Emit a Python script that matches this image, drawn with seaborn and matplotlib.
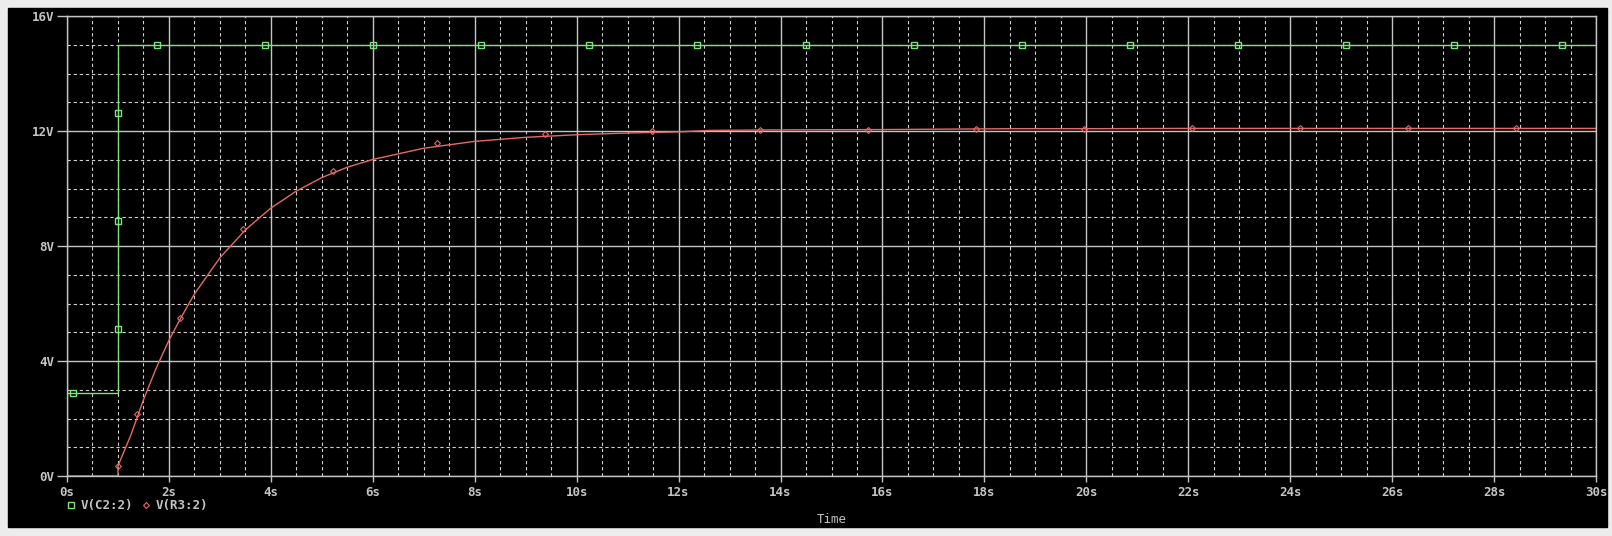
import matplotlib
matplotlib.use("Agg")
import matplotlib.pyplot as plt
from matplotlib.lines import Line2D
from matplotlib.patches import Rectangle
import matplotlib.ticker as mticker
import seaborn as sns

# V(C2:2) trace
c2_time = [0.0, 1.0, 1.0, 30.0]
c2_volt = [2.9, 2.9, 15.0, 15.0]
c2_mark_time = [0.12, 1.0, 1.0, 1.0, 1.77, 3.89, 6.01, 8.13, 10.25, 12.37, 14.49,
                16.61, 18.73, 20.85, 22.97, 25.09, 27.21, 29.33]
c2_mark_volt = [2.88, 5.1, 8.87, 12.62] + [15.0] * 14

# V(R3:2) trace
r3_time = [0.0, 1.0, 1.0, 1.25, 1.5, 1.75, 2.0, 2.25, 2.5, 3.0, 3.5, 4.0, 4.5,
           5.0, 5.5, 6.0, 7.0, 8.0, 9.0, 10.0, 11.0, 12.0, 12.6, 14.0, 16.0,
           18.5, 20.0, 22.0, 26.0, 30.0]
r3_volt = [0.0, 0.0, 0.35, 1.41, 2.65, 3.75, 4.72, 5.55, 6.33, 7.59, 8.56, 9.32,
           9.91, 10.38, 10.74, 11.01, 11.4, 11.64, 11.78, 11.87, 11.93, 11.97,
           12.02, 12.04, 12.05, 12.08, 12.08, 12.09, 12.09, 12.09]
r3_mark_time = [1.0, 1.37, 2.22, 3.45, 5.22, 7.26, 9.38, 11.48, 13.6, 15.72,
                17.83, 19.95, 22.07, 24.19, 26.31, 28.43]
r3_mark_volt = [0.35, 2.16, 5.5, 8.6, 10.6, 11.58, 11.9, 12.0, 12.04, 12.05,
                12.07, 12.08, 12.09, 12.09, 12.09, 12.09]

x_ticks = list(range(0, 31, 2))
x_labels = [f"{t}s" for t in x_ticks]
y_ticks = [0, 4, 8, 12, 16]
y_labels = [f"{v}V" for v in y_ticks]

green = "#7FE27F"
red = "#E36A6A"
grey = "#C4C4C4"

sns.set_style("dark")
plt.rcParams["font.family"] = ["DejaVu Sans Mono"]
plt.rcParams["font.weight"] = "bold"

W, H = 1612, 536
fig = plt.figure(figsize=(W / 100, H / 100), dpi=100, facecolor="#ECECEC")
fig.patches.append(Rectangle((8 / W, 1 - 527 / H), (1607 - 8) / W, (527 - 8) / H,
                             transform=fig.transFigure, color="black", zorder=-10))
ax = fig.add_axes([67 / W, 1 - 476 / H, (1596 - 67) / W, (476 - 16) / H])
ax.set_facecolor("black")

# grid
ax.xaxis.set_minor_locator(mticker.MultipleLocator(0.5))
ax.yaxis.set_minor_locator(mticker.MultipleLocator(1))
ax.grid(which="major", color=grey, lw=1.0, ls="-")
ax.grid(which="minor", color="#CFCFCF", lw=0.8, ls=(0, (3, 2.5)))
ax.set_axisbelow(True)

sns.lineplot(x=c2_time, y=c2_volt, sort=False, estimator=None, color=green,
             lw=1.0, ax=ax)
sns.lineplot(x=r3_time, y=r3_volt, sort=False, estimator=None, color=red,
             lw=1.0, ax=ax)
ax.plot(c2_mark_time, c2_mark_volt, ls="none", marker="s", ms=4.5,
        mfc="none", mec=green, mew=1.0)
ax.plot(r3_mark_time, r3_mark_volt, ls="none", marker="D", ms=3,
        mfc="none", mec=red, mew=0.8)

ax.set_xlim(0, 30)
ax.set_ylim(0, 16)
ax.set_xticks(x_ticks, x_labels)
ax.set_yticks(y_ticks, y_labels)
ax.tick_params(which="major", colors=grey, labelcolor=grey, labelsize=9,
               length=5, width=1, direction="out", bottom=True, left=True)
ax.tick_params(which="minor", length=0)
ax.tick_params(axis="x", pad=3, length=4)
ax.tick_params(axis="y", pad=2, length=7)
for s in ax.spines.values():
    s.set_color(grey)
    s.set_linewidth(1.0)

ax.set_xlabel("Time", color=grey, fontsize=9, labelpad=10)
ax.set_ylabel("")

handles = [
    Line2D([], [], ls="none", marker="s", ms=4, mfc="none", mec=green, mew=1.0),
    Line2D([], [], ls="none", marker="D", ms=3, mfc="none", mec=red, mew=0.8),
]
ax.legend(handles, ["V(C2:2)", "V(R3:2)"], ncol=2, loc="center left",
          bbox_to_anchor=(66 / W, 1 - 506 / H), bbox_transform=fig.transFigure,
          frameon=False, handlelength=0.8, handletextpad=0.4, columnspacing=0.6,
          borderaxespad=0, borderpad=0, labelcolor=grey, fontsize=9)

fig.savefig("out.png", dpi=100, facecolor=fig.get_facecolor())
